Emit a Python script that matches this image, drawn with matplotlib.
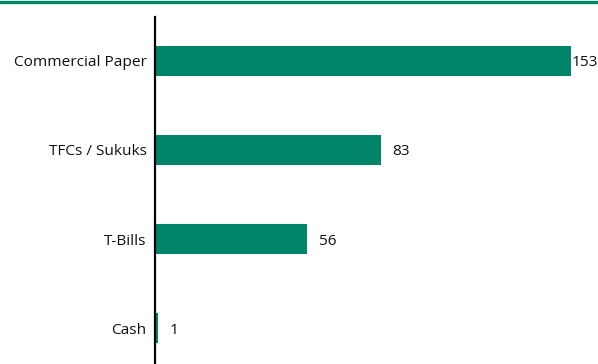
import matplotlib
matplotlib.use("Agg")
import matplotlib.pyplot as plt
from matplotlib.lines import Line2D

categories = ["Cash", "T-Bills", "TFCs / Sukuks", "Commercial Paper"]
values = [1, 56, 83, 153]

GREEN = "#00856A"
plt.rcParams['font.family'] = ['Open Sans', 'DejaVu Sans']

XMAX = 163
fig = plt.figure(figsize=(5.98, 3.64), dpi=100)
ax = fig.add_axes([155/598, 0, 1 - 155/598, (364-17)/364])
pos = list(range(len(categories)))
ax.barh(pos, values, height=0.34, color=GREEN)
for p, v in zip(pos, values):
    ax.text(min(v + 4.3, XMAX - 9.9), p, str(v), va='center_baseline', ha='left',
            fontsize=11.1, color='#111111')
ax.set_yticks(pos)
ax.set_yticklabels(categories, fontsize=11.1, color='#111111')
for lbl in ax.get_yticklabels():
    lbl.set_verticalalignment('center_baseline')
ax.tick_params(axis='y', length=0, pad=6)
ax.set_xticks([])
ax.set_xlim(0, XMAX)
ax.set_ylim(-0.404, 3.494)
for s in ['top', 'right', 'bottom']:
    ax.spines[s].set_visible(False)
ax.spines['left'].set_linewidth(1.6)
ax.spines['left'].set_color('black')
fig.add_artist(Line2D([0, 1], [1 - 1.5/364, 1 - 1.5/364], color=GREEN, linewidth=2.4, transform=fig.transFigure))
fig.savefig("out.png", dpi=100)
